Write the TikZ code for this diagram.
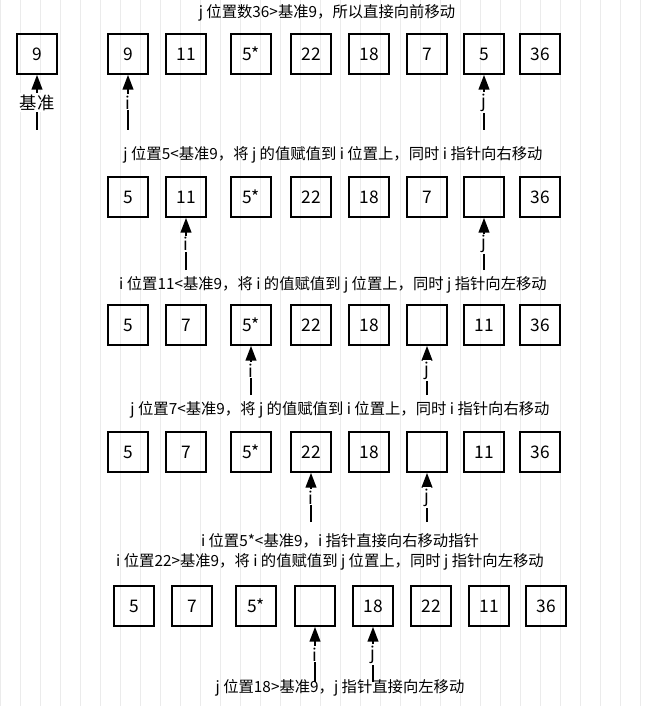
\documentclass[tikz,border=0pt]{standalone}
\usepackage{fontspec}
\setmainfont{Noto Sans CJK SC}
\usetikzlibrary{arrows.meta}
\tikzset{
    cell/.style={draw, line width=1.3pt, minimum size=30pt, inner sep=0pt, font=\fontsize{13}{13}\selectfont},
    ptr/.style={-{Triangle[length=11pt,width=8pt]}, line width=1.3pt},
    ptrlabel/.style={fill=white, inner sep=1pt, font=\fontsize{13}{13}\selectfont},
    note/.style={font=\fontsize{11.5}{12}\selectfont}
}
\begin{document}
\begin{tikzpicture}[x=0.75pt, y=-0.75pt]
    \useasboundingbox (0,0) rectangle (654,706);
    % background grid
    \fill[white] (0,0) rectangle (654,706);
    \draw[black!8] (0,0) grid[step=20] (654,706);

    % row 1
    \node[cell] (base) at (37,54) {9};
    \foreach \n/\x/\v in {1/128/9, 2/186/11, 3/251/5*, 4/311/22, 5/369/18, 6/427/7, 7/484/5, 8/540/36} {
        \node[cell] (a\n) at (\x,54) {\v};
    }
    % row 2
    \foreach \n/\x/\v in {1/128/5, 2/186/11, 3/251/5*, 4/311/22, 5/369/18, 6/427/7, 7/484/, 8/540/36} {
        \node[cell] (b\n) at (\x,197) {\v};
    }
    % row 3
    \foreach \n/\x/\v in {1/128/5, 2/186/7, 3/251/5*, 4/311/22, 5/369/18, 6/427/, 7/484/11, 8/540/36} {
        \node[cell] (c\n) at (\x,325) {\v};
    }
    % row 4
    \foreach \n/\x/\v in {1/128/5, 2/186/7, 3/251/5*, 4/311/22, 5/369/18, 6/427/, 7/484/11, 8/540/36} {
        \node[cell] (d\n) at (\x,452) {\v};
    }
    % row 5
    \foreach \n/\x/\v in {1/134/5, 2/192/7, 3/256/5*, 4/315/, 5/373/18, 6/431/22, 7/489/11, 8/546/36} {
        \node[cell] (e\n) at (\x,606) {\v};
    }

    % pointers
    \foreach \bx/\x/\y/\lab in {base/37/130/基准, a1/128/130/i, a7/484/130/j,
                                b2/186/270/i, b7/484/270/j,
                                c3/251/395/i, c6/427/395/j,
                                d4/311/522/i, d6/427/522/j,
                                e4/315/682/i, e5/373/682/j} {
        \coordinate (t-\bx) at (\x,\y);
        \draw[ptr] (t-\bx) -- node[ptrlabel] (l-\bx) {\lab} (\bx.south);
    }

    % notes
    \node[note] (n1) at (327,13) {j 位置数36>基准9，所以直接向前移动};
    \node[note] (n2) at (333,155) {j 位置5<基准9，将 j 的值赋值到 i 位置上，同时 i 指针向右移动};
    \node[note] (n3) at (333,285) {i 位置11<基准9，将 i 的值赋值到 j 位置上，同时 j 指针向左移动};
    \node[note] (n4) at (340,410) {j 位置7<基准9，将 j 的值赋值到 i 位置上，同时 i 指针向右移动};
    \node[note] (n5) at (340,541) {i 位置5*<基准9，i 指针直接向右移动指针};
    \node[note] (n6) at (330,562) {i 位置22>基准9，将 i 的值赋值到 j 位置上，同时 j 指针向左移动};
    \node[note] (n7) at (340,688) {j 位置18>基准9，j 指针直接向左移动};
\end{tikzpicture}
\end{document}
